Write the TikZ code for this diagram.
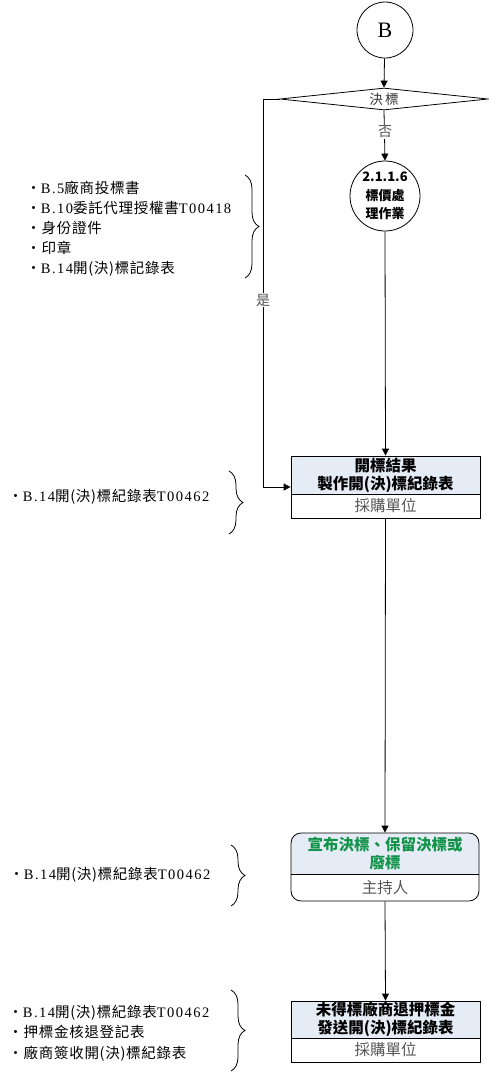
\documentclass[tikz,border=0pt]{standalone}
\usepackage{fontspec}
\setmainfont{Liberation Serif}
\newfontfamily\cjk{Noto Sans CJK TC}
\newfontfamily\cjkn{Noto Sans CJK TC}[LetterSpace=5.0]
\newfontfamily\lat{Liberation Serif}[LetterSpace=10.0]
\usetikzlibrary{shapes.geometric,arrows.meta,decorations.pathreplacing}
\definecolor{hdr}{HTML}{E6ECF6}
\definecolor{grn}{HTML}{12934A}
\definecolor{gry}{HTML}{555555}
\begin{document}
\begin{tikzpicture}[x=1pt,y=-1pt,
  line width=0.8pt,
  arr/.style={-{Triangle[length=7pt,width=7pt]}},
  conn/.style={draw, circle, inner sep=0pt, fill=white},
  hbox/.style={draw, fill=hdr, minimum width=189pt, inner sep=0pt, align=center,
     font=\cjk\bfseries\fontsize{15.5}{18}\selectfont},
  fbox/.style={draw, minimum width=189pt, minimum height=24pt, inner sep=0pt,
     text=gry, font=\cjk\fontsize{15.5}{18}\selectfont},
  note/.style={anchor=west, inner sep=0pt, align=left, font=\cjkn\fontsize{14.5}{20}\selectfont},
  brc/.style={decorate, decoration={brace, amplitude=14pt}, line width=0.8pt},
  lbl/.style={fill=white, inner sep=1pt, text=gry, font=\cjk\fontsize{14}{16}\selectfont}]
\useasboundingbox (0,0) rectangle (488,1072);

% start connector
\node[conn, minimum size=56pt, font=\fontsize{22}{24}\selectfont] (B) at (385,30) {B};

% decision
\node[draw, diamond, minimum width=208pt, minimum height=22pt, inner sep=0pt, aspect=9.45] (dec) at (384,99) {};
\node[inner sep=0pt, text=black!80, font=\cjk\fontsize{13.5}{15}\selectfont] (dect) at (384,99) {決\,標};

% sub-process circle
\node[conn, minimum size=70pt, align=center, font=\cjk\bfseries\fontsize{13}{18.5}\selectfont] (c2) at (385,196) {2.1.1.6\\標價處\\理作業};

% box 1
\node[hbox, minimum height=38pt] (b1h) at (385.5,475) {開標結果\\製作開(決)標紀錄表};
\node[fbox] (b1f) at (385.5,506) {採購單位};

% box 2 (rounded)
\fill[hdr] (291,874) [rounded corners=10pt]-- (291,833) -- (479,833) [sharp corners]-- (479,874) -- cycle;
\node[draw, rounded corners=10pt, minimum width=188pt, minimum height=68pt, inner sep=0pt] (b2) at (385,867) {};
\draw (b2.west |- 0,874) -- (b2.east |- 0,874);
\node[inner sep=0pt, align=center, text=grn, font=\cjk\bfseries\fontsize{15.5}{18}\selectfont] (b2t) at (385,853.5) {宣布決標、保留決標或\\廢標};
\node[inner sep=0pt, text=gry, font=\cjk\fontsize{15.5}{18}\selectfont] (b2s) at (385,887.5) {主持人};

% box 3
\node[hbox, minimum height=37pt] (b3h) at (385.5,1019.5) {未得標廠商退押標金\\發送開(決)標紀錄表};
\node[fbox] (b3f) at (385.5,1050) {採購單位};

% connectors
\draw[arr] (B) -- (dec.north);
\draw[arr] (dec.south) -- (c2.north);
\node[lbl] (no) at (385,132) {否};
\draw[arr] (c2.south) -- (b1h.north);
\coordinate (yc) at (263,487);
\draw[arr] (dec.west) -| (yc) -- (b1h.west |- yc);
\node[lbl] (yes) at (263,300) {是};
\draw[arr] (b1f.south) -- (b2.north);
\draw[arr] (b2.south) -- (b3h.north);

% notes
\node[note] (n1) at (26,229) {・{\lat B.5}廠商投標書\\・{\lat B.10}委託代理授權書{\lat T00418}\\・身份證件\\・印章\\・{\lat B.14}開(決)標記錄表};
\draw[brc] (245,175) -- (245,278);

\node[note] (n2) at (8,497) {・{\lat B.14}開(決)標紀錄表{\lat T00462}};
\draw[brc] (229,471) -- (229,534);

\node[note] (n3) at (9,875) {・{\lat B.14}開(決)標紀錄表{\lat T00462}};
\draw[brc] (231,845) -- (231,906);

\node[note, font=\cjkn\fontsize{14.5}{20.5}\selectfont] (n4) at (8,1033) {・{\lat B.14}開(決)標紀錄表{\lat T00462}\\・押標金核退登記表\\・廠商簽收開(決)標紀錄表};
\draw[brc] (231,990) -- (231,1071);
\end{tikzpicture}
\end{document}
